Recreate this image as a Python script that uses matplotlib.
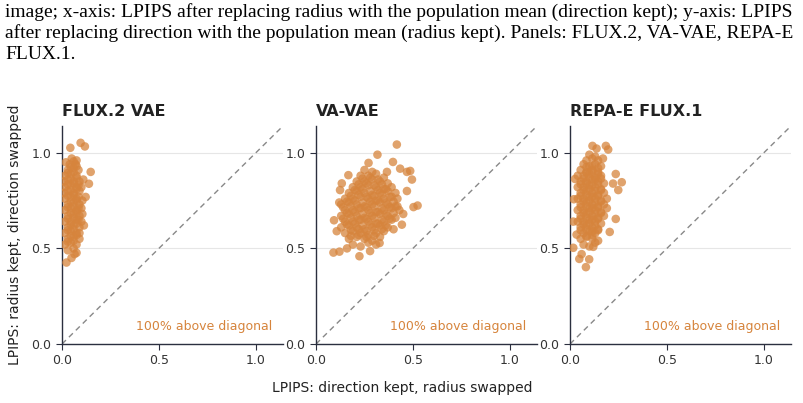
import matplotlib
matplotlib.use("Agg")
import matplotlib.pyplot as plt

ORANGE = "#D6843C"
SPINE = "#2b2f3f"

CAPTION = [
    "image; x-axis: LPIPS after replacing radius with the population mean (direction kept); y-axis: LPIPS",
    "after replacing direction with the population mean (radius kept). Panels: FLUX.2, VA-VAE, REPA-E",
    "FLUX.1.",
]
TITLES = ["FLUX.2 VAE", "VA-VAE", "REPA-E FLUX.1"]
NOTES = ["100% above diagonal", "100% above diagonal", "100% above diagonal"]
TICKS = [0.0, 0.5, 1.0]
TICK_LABELS = ["0.0", "0.5", "1.0"]

# FLUX.2 VAE: points (core rows, outliers, dense core fill)
flux2_x = [
    0.03, 0.06,
    0.015, 0.045, 0.075,
    0.03, 0.06, 0.09,
    0.015, 0.045, 0.075,
    0.03, 0.06, 0.09,
    0.015, 0.045, 0.075, 0.10,
    0.03, 0.06, 0.09,
    0.015, 0.045, 0.075, 0.10,
    0.03, 0.06, 0.09,
    0.015, 0.045, 0.075, 0.105,
    0.01, 0.03, 0.06, 0.09,
    0.015, 0.045, 0.075, 0.10,
    0.01, 0.03, 0.06, 0.09,
    0.015, 0.045, 0.075,
    0.03, 0.06, 0.085,
    0.04, 0.07,
    0.05, 0.075,
    0.096, 0.043, 0.118, 0.148, 0.139, 0.122, 0.113, 0.023, 0.049, 0.075,
    0.105, 0.02, 0.09, 0.11, 0.065,
    0.03, 0.06,
    0.03, 0.06,
    0.03, 0.06, 0.085,
    0.03, 0.06, 0.085,
    0.03, 0.06, 0.085,
    0.03, 0.06, 0.085,
    0.03, 0.06,
    0.06,
    0.045, 0.075,
    0.045, 0.075,
    0.045, 0.075,
    0.045, 0.075,
    0.045, 0.075,
    0.045, 0.075,
    0.045, 0.075,
]
flux2_y = [
    0.49, 0.50,
    0.52, 0.53, 0.52,
    0.55, 0.56, 0.55,
    0.58, 0.59, 0.58,
    0.61, 0.62, 0.61,
    0.64, 0.64, 0.65, 0.64,
    0.67, 0.68, 0.67,
    0.70, 0.71, 0.70, 0.71,
    0.73, 0.74, 0.73,
    0.76, 0.77, 0.76, 0.75,
    0.79, 0.80, 0.79, 0.80,
    0.82, 0.83, 0.82, 0.82,
    0.85, 0.86, 0.85, 0.85,
    0.88, 0.89, 0.88,
    0.91, 0.92, 0.91,
    0.94, 0.94,
    0.97, 0.96,
    1.052, 1.026, 1.033, 0.90, 0.838, 0.769, 0.62, 0.426, 0.45, 0.477,
    0.68, 0.95, 0.58, 0.86, 0.47,
    0.535, 0.54,
    0.595, 0.60,
    0.655, 0.66, 0.65,
    0.715, 0.72, 0.71,
    0.775, 0.78, 0.77,
    0.835, 0.84, 0.83,
    0.895, 0.90,
    0.955,
    0.565, 0.57,
    0.625, 0.63,
    0.685, 0.69,
    0.745, 0.75,
    0.805, 0.81,
    0.865, 0.87,
    0.925, 0.93,
]

# VA-VAE
vavae_x = [
    0.19, 0.23, 0.27, 0.31,
    0.17, 0.21, 0.25, 0.29, 0.33,
    0.15, 0.19, 0.23, 0.27, 0.31, 0.35,
    0.13, 0.17, 0.21, 0.25, 0.29, 0.33, 0.37,
    0.15, 0.19, 0.23, 0.27, 0.31, 0.35, 0.39,
    0.13, 0.17, 0.21, 0.25, 0.29, 0.33, 0.37, 0.41,
    0.15, 0.19, 0.23, 0.27, 0.31, 0.35, 0.39, 0.43,
    0.13, 0.17, 0.21, 0.25, 0.29, 0.33, 0.37, 0.41,
    0.15, 0.19, 0.23, 0.27, 0.31, 0.35, 0.39, 0.42,
    0.17, 0.21, 0.25, 0.29, 0.33, 0.37, 0.41,
    0.19, 0.23, 0.27, 0.31, 0.35, 0.39,
    0.21, 0.25, 0.29, 0.33, 0.37,
    0.23, 0.27, 0.31, 0.35,
    0.25, 0.29,
    0.417, 0.317, 0.397, 0.271, 0.486, 0.495, 0.469, 0.524, 0.503, 0.443,
    0.09, 0.121, 0.224, 0.279, 0.328, 0.093, 0.107, 0.167, 0.133, 0.124,
    0.366, 0.434, 0.469, 0.45, 0.40, 0.12, 0.16,
    0.18, 0.22, 0.26, 0.30,
    0.16, 0.20, 0.24, 0.28, 0.32, 0.36,
    0.16, 0.20, 0.24, 0.28, 0.32, 0.36, 0.40,
    0.16, 0.20, 0.24, 0.28, 0.32, 0.36, 0.40,
    0.20, 0.24, 0.28, 0.32, 0.36,
    0.24, 0.28, 0.32,
    0.18, 0.22, 0.26, 0.30, 0.34,
    0.14, 0.18, 0.22, 0.26, 0.30, 0.34, 0.38,
    0.14, 0.18, 0.22, 0.26, 0.30, 0.34, 0.38, 0.42,
    0.18, 0.22, 0.26, 0.30, 0.34, 0.38,
    0.22, 0.26, 0.30, 0.34,
]
vavae_y = [
    0.52, 0.51, 0.53, 0.52,
    0.55, 0.56, 0.55, 0.54, 0.56,
    0.58, 0.59, 0.58, 0.57, 0.58, 0.59,
    0.61, 0.62, 0.61, 0.60, 0.61, 0.62, 0.61,
    0.64, 0.64, 0.65, 0.64, 0.63, 0.64, 0.65,
    0.67, 0.68, 0.67, 0.66, 0.67, 0.68, 0.67, 0.66,
    0.70, 0.70, 0.71, 0.70, 0.69, 0.70, 0.71, 0.70,
    0.73, 0.74, 0.73, 0.72, 0.73, 0.74, 0.73, 0.72,
    0.76, 0.76, 0.77, 0.76, 0.75, 0.76, 0.77, 0.76,
    0.79, 0.80, 0.79, 0.78, 0.79, 0.80, 0.79,
    0.82, 0.82, 0.83, 0.82, 0.81, 0.82,
    0.85, 0.85, 0.86, 0.85, 0.84,
    0.88, 0.88, 0.89, 0.87,
    0.91, 0.90,
    1.043, 0.99, 0.952, 0.947, 0.905, 0.86, 0.80, 0.724, 0.716, 0.624,
    0.478, 0.483, 0.459, 0.486, 0.528, 0.647, 0.59, 0.883, 0.84, 0.805,
    0.90, 0.917, 0.90, 0.68, 0.60, 0.74, 0.50,
    0.565, 0.57, 0.56, 0.565,
    0.625, 0.63, 0.62, 0.625, 0.63, 0.62,
    0.685, 0.69, 0.68, 0.685, 0.69, 0.68, 0.685,
    0.745, 0.75, 0.74, 0.745, 0.75, 0.74, 0.745,
    0.805, 0.81, 0.80, 0.805, 0.81,
    0.865, 0.87, 0.86,
    0.595, 0.60, 0.59, 0.595, 0.60,
    0.655, 0.66, 0.65, 0.655, 0.66, 0.65, 0.655,
    0.715, 0.72, 0.71, 0.715, 0.72, 0.71, 0.715, 0.72,
    0.775, 0.78, 0.77, 0.775, 0.78, 0.77,
    0.835, 0.84, 0.83, 0.835,
]

# REPA-E FLUX.1
repae_x = [
    0.07, 0.10, 0.13,
    0.055, 0.085, 0.115, 0.145,
    0.07, 0.10, 0.13,
    0.055, 0.085, 0.115, 0.145,
    0.04, 0.07, 0.10, 0.13, 0.16,
    0.055, 0.085, 0.115, 0.145, 0.175,
    0.04, 0.07, 0.10, 0.13, 0.16,
    0.055, 0.085, 0.115, 0.145, 0.175,
    0.04, 0.07, 0.10, 0.13, 0.16, 0.19,
    0.055, 0.085, 0.115, 0.145, 0.175,
    0.04, 0.07, 0.10, 0.13, 0.16,
    0.055, 0.085, 0.115, 0.145, 0.175,
    0.04, 0.07, 0.10, 0.13, 0.16,
    0.055, 0.085, 0.115, 0.145,
    0.07, 0.10, 0.13, 0.16,
    0.085, 0.115, 0.145,
    0.10, 0.13,
    0.116, 0.185, 0.197, 0.137, 0.236, 0.267, 0.222, 0.249, 0.236, 0.205,
    0.017, 0.048, 0.082, 0.099, 0.12, 0.02, 0.017, 0.034, 0.026, 0.06,
    0.17, 0.19,
    0.085, 0.115,
    0.07, 0.10, 0.13,
    0.07, 0.10, 0.13, 0.16,
    0.07, 0.10, 0.13, 0.16,
    0.07, 0.10, 0.13, 0.16,
    0.07, 0.10, 0.13, 0.16,
    0.085, 0.115, 0.145,
    0.055, 0.085, 0.115, 0.145,
    0.055, 0.085, 0.115, 0.145,
    0.055, 0.085, 0.115, 0.145,
    0.055, 0.085, 0.115, 0.145,
    0.055, 0.085, 0.115, 0.145,
    0.085, 0.115, 0.145,
]
repae_y = [
    0.52, 0.51, 0.53,
    0.55, 0.56, 0.55, 0.54,
    0.58, 0.59, 0.58,
    0.61, 0.62, 0.61, 0.60,
    0.64, 0.64, 0.65, 0.64, 0.63,
    0.67, 0.68, 0.67, 0.66, 0.67,
    0.70, 0.70, 0.71, 0.70, 0.69,
    0.73, 0.74, 0.73, 0.72, 0.73,
    0.76, 0.76, 0.77, 0.76, 0.75, 0.76,
    0.79, 0.80, 0.79, 0.78, 0.79,
    0.82, 0.82, 0.83, 0.82, 0.81,
    0.85, 0.85, 0.86, 0.85, 0.84,
    0.88, 0.88, 0.89, 0.87, 0.88,
    0.91, 0.90, 0.91, 0.90,
    0.94, 0.93, 0.94, 0.93,
    0.96, 0.97, 0.96,
    0.99, 0.98,
    1.036, 1.036, 1.017, 1.022, 0.889, 0.846, 0.839, 0.805, 0.654, 0.586,
    0.503, 0.445, 0.402, 0.443, 0.508, 0.757, 0.64, 0.572, 0.863, 0.47,
    0.97, 0.71,
    0.565, 0.57,
    0.625, 0.63, 0.62,
    0.685, 0.69, 0.68, 0.685,
    0.745, 0.75, 0.74, 0.745,
    0.805, 0.81, 0.80, 0.805,
    0.865, 0.87, 0.86, 0.865,
    0.925, 0.93, 0.92,
    0.595, 0.60, 0.59, 0.595,
    0.655, 0.66, 0.65, 0.655,
    0.715, 0.72, 0.71, 0.715,
    0.775, 0.78, 0.77, 0.775,
    0.835, 0.84, 0.83, 0.835,
    0.895, 0.90, 0.89,
]

panels = [(flux2_x, flux2_y), (vavae_x, vavae_y), (repae_x, repae_y)]


def main():
    fig = plt.figure(figsize=(8.04, 4.03), dpi=100)

    # caption text copied from the page above the figure
    for i, line in enumerate(CAPTION):
        fig.text(5 / 804, 1 - (17 + 21 * i) / 403, line, family="Liberation Serif",
                 fontsize=14.0, color="black", ha="left", va="baseline")

    lefts = [62, 316, 570]
    for k, (xs, ys) in enumerate(panels):
        ax = fig.add_axes([lefts[k] / 804, 59 / 403, 221 / 804, 218 / 403])
        ax.plot([0, 1.2], [0, 1.2], ls=(0, (4, 3)), color="#888888", lw=1, zorder=1)
        ax.scatter(xs, ys, s=38, color=ORANGE, alpha=0.75, edgecolors="none", zorder=3)
        ax.set_xlim(0, 1.14)
        ax.set_ylim(0, 1.14)
        ax.set_xticks(TICKS, TICK_LABELS)
        ax.set_yticks(TICKS, TICK_LABELS)
        ax.grid(axis="y", color="#e6e6e6", lw=0.8, zorder=0)
        ax.set_axisbelow(True)
        for side in ("top", "right"):
            ax.spines[side].set_visible(False)
        for side in ("left", "bottom"):
            ax.spines[side].set_color(SPINE)
            ax.spines[side].set_linewidth(1.0)
        ax.tick_params(labelsize=9, colors=SPINE, labelcolor="#333333", length=4, width=0.8)
        ax.set_title(TITLES[k], loc="left", fontsize=11.5, fontweight="bold",
                     color="#222222", pad=7)
        ax.text(0.95, 0.05, NOTES[k], transform=ax.transAxes, ha="right", va="bottom",
                fontsize=9, color=ORANGE)
        if k == 0:
            ax.set_ylabel("LPIPS: radius kept, direction swapped", fontsize=10,
                          color="#222222", labelpad=7)

    fig.text(0.5, 1 - 388 / 403, "LPIPS: direction kept, radius swapped", ha="center",
             va="center", fontsize=10, color="#222222")

    fig.savefig("out.png", dpi=100)


if __name__ == "__main__":
    main()
